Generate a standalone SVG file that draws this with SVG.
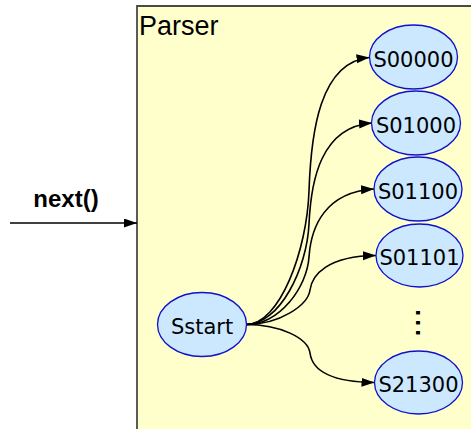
<svg xmlns="http://www.w3.org/2000/svg" width="471" height="429" viewBox="0 0 471 429">
  <style>
    .state ellipse { fill: #CCE8FF; stroke: #1010CC; stroke-width: 1.3; }
    .state text { font-family: "DejaVu Sans", "Verdana", sans-serif; font-size: 21px; fill: #000; text-anchor: middle; }
    .edge { fill: none; stroke: #000; stroke-width: 1.6; marker-end: url(#arrow); }
    .title { font-family: "Liberation Sans", Arial, sans-serif; font-size: 27px; fill: #000; }
    .call { font-family: "Liberation Sans", Arial, sans-serif; font-size: 24px; font-weight: bold; fill: #000; text-anchor: middle; }
  </style>
  <defs>
    <marker id="arrow" markerUnits="userSpaceOnUse" markerWidth="14" markerHeight="10" refX="13" refY="4.5" orient="auto">
      <path d="M0,0 L13,4.5 L0,9 z" fill="#000"/>
    </marker>
  </defs>

  <rect width="471" height="429" fill="#FFFFFF"/>

  <!-- Parser container -->
  <g id="parser">
    <rect x="137" y="6" width="340" height="430" fill="#FFFFCC"/>
    <path d="M137,430 L137,6 L471,6" fill="none" stroke="#4A4A4A" stroke-width="1.8"/>
    <text class="title" x="139" y="35">Parser</text>
  </g>

  <!-- Incoming call -->
  <g id="next-call">
    <text class="call" x="66" y="207">next()</text>
  </g>

  <!-- Connectors -->
  <g id="connectors">
    <path class="edge" d="M10,223 L137,223"/>
    <!-- Sstart -> S00000 -->
    <path class="edge" d="M246,324.5 C280,324.5 307,250 309,191 C311,132 320,62 369.5,57.5"/>
    <!-- Sstart -> S01000 -->
    <path class="edge" d="M246,324.5 C280,324.5 307,268 309,224 C311,180 321,127 372,123"/>
    <!-- Sstart -> S01100 -->
    <path class="edge" d="M246,324.5 C280,324.5 307,287 309,257 C311,227 325,192 374,189"/>
    <!-- Sstart -> S01101 -->
    <path class="edge" d="M246,324.5 C280,324.5 308,305 310,290 C312,275 327,256 376,255.5"/>
    <!-- Sstart -> S21300 -->
    <path class="edge" d="M246,324.5 C280,324.5 308,338 310,353 C312,368 326,382 374.5,382.5"/>
  </g>

  <!-- States -->
  <g id="Sstart" class="state">
    <ellipse cx="202" cy="324.5" rx="44.5" ry="32"/>
    <text x="202" y="334">Sstart</text>
  </g>
  <g id="S00000" class="state">
    <ellipse cx="413.5" cy="57" rx="44" ry="32"/>
    <text x="413.5" y="66.5">S00000</text>
  </g>
  <g id="S01000" class="state">
    <ellipse cx="416" cy="123" rx="44.5" ry="32"/>
    <text x="416" y="132.5">S01000</text>
  </g>
  <g id="S01100" class="state">
    <ellipse cx="418" cy="189" rx="44" ry="32"/>
    <text x="418" y="198.5">S01100</text>
  </g>
  <g id="S01101" class="state">
    <ellipse cx="419.5" cy="255.5" rx="43.5" ry="31.5"/>
    <text x="419.5" y="265">S01101</text>
  </g>
  <g id="S21300" class="state">
    <ellipse cx="418.5" cy="382.5" rx="44" ry="31.5"/>
    <text x="418.5" y="392">S21300</text>
  </g>

  <!-- Ellipsis between listed states -->
  <g id="more-states">
    <text x="416.2" y="322.7" transform="rotate(90 416.2 322.7)" font-family="Liberation Sans, Arial, sans-serif" font-size="36" text-anchor="middle">...</text>
  </g>
</svg>
